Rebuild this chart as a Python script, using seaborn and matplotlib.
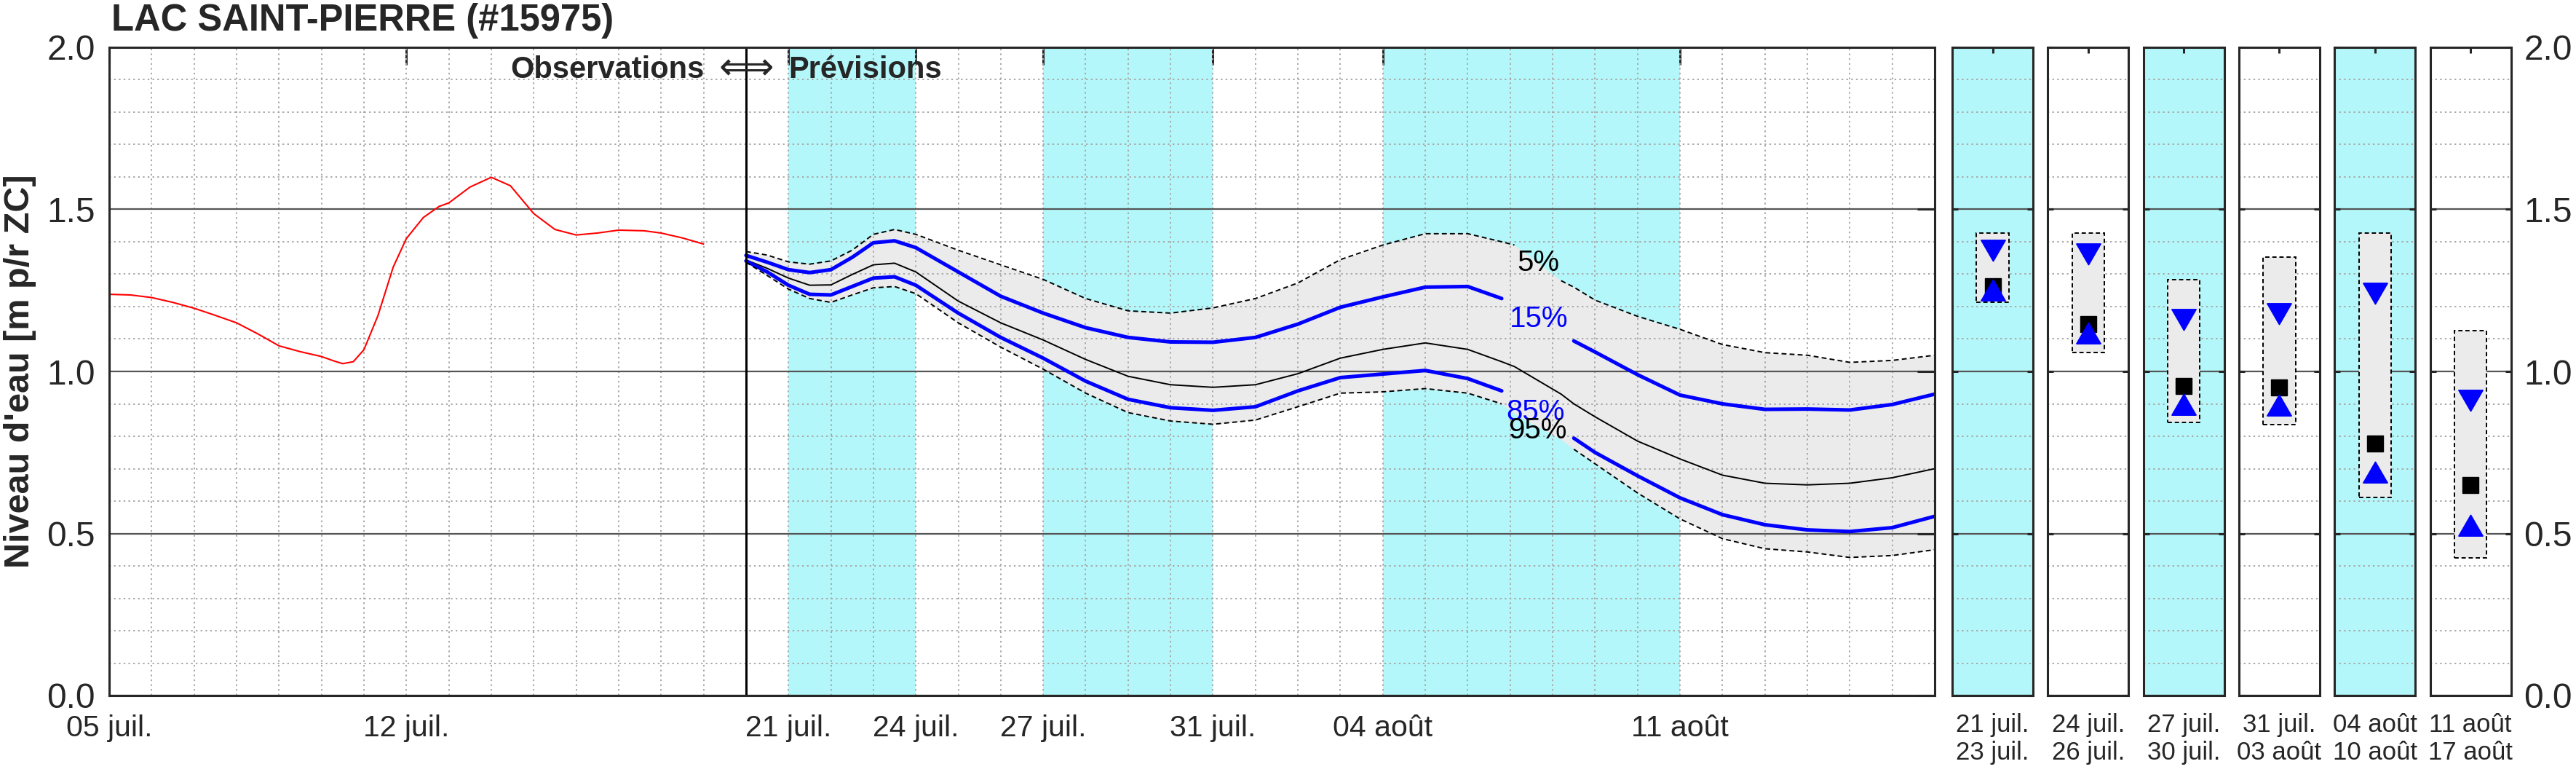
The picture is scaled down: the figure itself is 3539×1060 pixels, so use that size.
import numpy as np
import pandas as pd
import matplotlib
matplotlib.use("Agg")
import matplotlib.pyplot as plt
import seaborn as sns
from matplotlib.ticker import MultipleLocator

# ---------------- data ----------------
title = "LAC SAINT-PIERRE (#15975)"
ylabel = "Niveau d'eau [m p/r ZC]"

# day offsets counted from 05 juil.
obs_day = [0.0, 0.5, 1.0, 1.5, 2.0, 2.5, 3.0, 3.5, 4.0, 4.5, 5.0, 5.3, 5.5, 5.75,
           6.0, 6.33, 6.69, 7.0, 7.4, 7.77, 8.0, 8.5, 9.0, 9.45, 10.0, 10.5, 11.0,
           11.5, 12.0, 12.6, 13.0, 13.5, 14.0]
obs_level = [1.238, 1.236, 1.228, 1.213, 1.195, 1.173, 1.150, 1.116, 1.079, 1.061,
             1.046, 1.032, 1.024, 1.030, 1.067, 1.172, 1.322, 1.410, 1.475, 1.509,
             1.520, 1.569, 1.599, 1.573, 1.487, 1.438, 1.421, 1.427, 1.436, 1.434,
             1.427, 1.412, 1.393]

fc_day = [15, 15.5, 16, 16.5, 17, 17.5, 18, 18.5, 19, 20, 21, 22, 23, 24, 25, 26,
          27, 28, 29, 30, 31, 32, 32.8, 33.1, 34.2, 34.5, 35, 36, 37, 38, 39, 40,
          41, 42, 43]
fc_q05 = [1.370, 1.359, 1.338, 1.331, 1.341, 1.374, 1.423, 1.438, 1.423, 1.374,
          1.329, 1.284, 1.225, 1.187, 1.180, 1.196, 1.225, 1.273, 1.345, 1.390,
          1.425, 1.425, 1.400, 1.390, 1.280, 1.260, 1.220, 1.170, 1.130, 1.083,
          1.058, 1.050, 1.028, 1.034, 1.050]
fc_q15 = [1.358, 1.337, 1.314, 1.305, 1.314, 1.352, 1.397, 1.403, 1.382, 1.307,
          1.232, 1.180, 1.135, 1.105, 1.091, 1.090, 1.105, 1.146, 1.198, 1.230,
          1.260, 1.262, 1.225, 1.200, 1.120, 1.094, 1.060, 0.990, 0.927, 0.900,
          0.883, 0.884, 0.881, 0.898, 0.930]
fc_q50 = [1.344, 1.318, 1.288, 1.266, 1.267, 1.299, 1.329, 1.334, 1.307, 1.217,
          1.150, 1.097, 1.037, 0.985, 0.959, 0.951, 0.959, 0.993, 1.041, 1.068,
          1.088, 1.068, 1.030, 1.015, 0.930, 0.900, 0.860, 0.785, 0.730, 0.680,
          0.655, 0.650, 0.655, 0.672, 0.700]
fc_q85 = [1.341, 1.307, 1.266, 1.238, 1.236, 1.262, 1.288, 1.292, 1.266, 1.180,
          1.105, 1.041, 0.970, 0.914, 0.888, 0.880, 0.891, 0.940, 0.981, 0.992,
          1.003, 0.978, 0.940, 0.910, 0.820, 0.794, 0.750, 0.678, 0.610, 0.558,
          0.527, 0.511, 0.506, 0.518, 0.553]
fc_q95 = [1.337, 1.296, 1.254, 1.225, 1.213, 1.236, 1.258, 1.262, 1.240, 1.150,
          1.075, 1.007, 0.933, 0.873, 0.847, 0.837, 0.850, 0.891, 0.933, 0.937,
          0.947, 0.933, 0.900, 0.870, 0.790, 0.760, 0.715, 0.625, 0.545, 0.484,
          0.453, 0.443, 0.426, 0.432, 0.450]

main_tick_day = [0, 7, 16, 19, 22, 26, 30, 37]
main_tick_label = ["05 juil.", "12 juil.", "21 juil.", "24 juil.", "27 juil.",
                   "31 juil.", "04 août", "11 août"]
forecast_start_day = 15
last_day = 43
shade_start = [16, 22, 30]
shade_end = [19, 26, 37]

pct_text = ["5%", "15%", "85%", "95%"]
pct_day = [33.66, 33.67, 33.60, 33.65]
pct_level = [1.335, 1.162, 0.875, 0.818]
pct_gap_start = [33.1, 32.8, 32.8, 32.8]
pct_gap_end = [34.2, 34.5, 34.5, 34.5]

per_from = ["21 juil.", "24 juil.", "27 juil.", "31 juil.", "04 août", "11 août"]
per_to = ["23 juil.", "26 juil.", "30 juil.", "03 août", "10 août", "17 août"]
per_shaded = [True, False, True, False, True, False]
per_q05 = [1.428, 1.426, 1.284, 1.352, 1.428, 1.126]
per_q15 = [1.385, 1.373, 1.170, 1.188, 1.252, 0.921]
per_q50 = [1.264, 1.147, 0.954, 0.950, 0.777, 0.649]
per_q85 = [1.241, 1.108, 0.888, 0.885, 0.678, 0.514]
per_q95 = [1.214, 1.058, 0.842, 0.836, 0.612, 0.425]

# ---------------- style ----------------
sns.set_style("white")
plt.rcParams["font.family"] = ["Liberation Sans", "DejaVu Sans"]

CYAN = "#b3f7fa"
FILL = "#ebebeb"
SPINE = "#262626"
GRID_MIN = dict(color="#a8a8a8", lw=1.4, ls=(0, (1.2, 2.2)))
GRID_MAJ = dict(color="#555555", lw=1.6, ls="-")
DASH = (0, (3.5, 2.2))

W, H = 3539, 1060
fig = plt.figure(figsize=(W / 100, H / 100), dpi=100)
bot, hgt = 105 / H, 890 / H
ax = fig.add_axes([150 / W, bot, 2508 / W, hgt])

# background shading
for s, e in zip(shade_start, shade_end):
    ax.axvspan(s, e, color=CYAN, lw=0, zorder=0.3)

df = pd.DataFrame({"day": fc_day, "q05": fc_q05, "q15": fc_q15, "q50": fc_q50,
                   "q85": fc_q85, "q95": fc_q95})
ax.fill_between(df["day"], df["q95"], df["q05"], color=FILL, lw=0, zorder=1)

obs = pd.DataFrame({"day": obs_day, "level": obs_level})
sns.lineplot(data=obs, x="day", y="level", ax=ax, color="#ff0000", lw=1.5,
             errorbar=None, zorder=3)

sns.lineplot(data=df, x="day", y="q50", ax=ax, color="black", lw=1.4,
             errorbar=None, zorder=3)

series = [("q05", "black", 1.4, DASH), ("q15", "#0000ff", 3.6, "-"),
          ("q85", "#0000ff", 3.6, "-"), ("q95", "black", 1.4, DASH)]
for (col, c, lw, ls), g0, g1, txt, tx, ty in zip(series, pct_gap_start, pct_gap_end,
                                                   pct_text, pct_day, pct_level):
    for part in (df[df["day"] <= g0], df[df["day"] >= g1]):
        sns.lineplot(data=part, x="day", y=col, ax=ax, color=c, lw=lw,
                     linestyle=ls, errorbar=None, zorder=3)
    ax.text(tx, ty, txt, ha="center", va="center", fontsize=29, color=c, zorder=4)

ax.axvline(forecast_start_day, color="black", lw=2.2, zorder=3.5)

ax.text(14.02, 1.906, "Observations", ha="right", va="baseline", fontsize=30,
        fontweight="bold", zorder=4)
ax.text(forecast_start_day, 1.933, "\u27fa", ha="center", va="center", fontsize=38,
        family=["DejaVu Sans"], zorder=4)
ax.text(16.0, 1.906, "Prévisions", ha="left", va="baseline", fontsize=30,
        fontweight="bold", zorder=4)

ax.set_xlim(0, last_day)
ax.set_ylim(0, 2)
ax.set_xticks(main_tick_day, main_tick_label)
ax.xaxis.set_minor_locator(MultipleLocator(1))
ax.xaxis.remove_overlapping_locs = False
ax.yaxis.set_major_locator(MultipleLocator(0.5))
ax.yaxis.set_major_formatter(matplotlib.ticker.FormatStrFormatter("%.1f"))
ax.yaxis.set_minor_locator(MultipleLocator(0.1))
ax.set_axisbelow("line")
ax.grid(which="minor", axis="both", **GRID_MIN)
ax.grid(which="major", axis="y", **GRID_MAJ)
ax.grid(which="major", axis="x", visible=False)
ax.tick_params(which="major", direction="in", length=17, width=2.2, color=SPINE,
               top=True, right=True)
ax.tick_params(which="minor", length=0)
ax.tick_params(axis="y", labelsize=34.5, pad=14, labelcolor="#262626")
ax.tick_params(axis="x", labelsize=29.5, pad=19, labelcolor="#262626")
for sp in ax.spines.values():
    sp.set_color(SPINE)
    sp.set_linewidth(2.2)
    sp.set_zorder(5)
ax.set_xlabel("")
ax.set_ylabel(ylabel, fontsize=35, fontweight="bold")
ax.yaxis.set_label_coords(-0.0399, 0.5)

fig.text(153 / W, 1 - 42 / H, title, ha="left", va="baseline", fontsize=36.5,
         fontweight="bold")

# ---------------- period panels ----------------
for i in range(len(per_from)):
    left = 2682 + i * 131.3
    pax = fig.add_axes([left / W, bot, 111 / W, hgt])
    if per_shaded[i]:
        pax.set_facecolor(CYAN)
    pax.bar([0], [per_q05[i] - per_q95[i]], bottom=[per_q95[i]], width=0.8,
            color=FILL, edgecolor="black", linestyle=(0, (3, 2)), lw=1.4, zorder=2)
    pax.plot([0], [per_q50[i]], marker="s", ms=16.5, color="black", ls="none", zorder=3)
    pax.plot([0], [per_q15[i]], marker=(3, 0, 180), ms=28, color="#0000ff",
             ls="none", zorder=4)
    pax.plot([0], [per_q85[i]], marker=(3, 0, 0), ms=28, color="#0000ff",
             ls="none", zorder=4)
    pax.set_xlim(-1, 1)
    pax.set_ylim(0, 2)
    pax.set_xticks([0], [per_from[i] + "\n" + per_to[i]])
    pax.yaxis.set_major_locator(MultipleLocator(0.5))
    pax.yaxis.set_major_formatter(matplotlib.ticker.FormatStrFormatter("%.1f"))
    pax.yaxis.set_minor_locator(MultipleLocator(0.1))
    pax.set_axisbelow("line")
    pax.grid(which="minor", axis="y", **GRID_MIN)
    pax.grid(which="major", axis="y", **GRID_MAJ)
    pax.grid(which="both", axis="x", visible=False)
    pax.tick_params(which="major", direction="in", length=6, width=2.2, color=SPINE,
                    top=True, right=True, left=True)
    pax.tick_params(which="minor", length=0)
    pax.tick_params(axis="x", labelsize=25, pad=17, labelcolor="#262626")
    pax.tick_params(axis="y", labelleft=False, labelright=(i == len(per_from) - 1),
                    labelsize=34.5, pad=13, labelcolor="#262626")
    for sp in pax.spines.values():
        sp.set_color(SPINE)
        sp.set_linewidth(2.2)
        sp.set_zorder(5)

fig.savefig("out.png", dpi=100)
